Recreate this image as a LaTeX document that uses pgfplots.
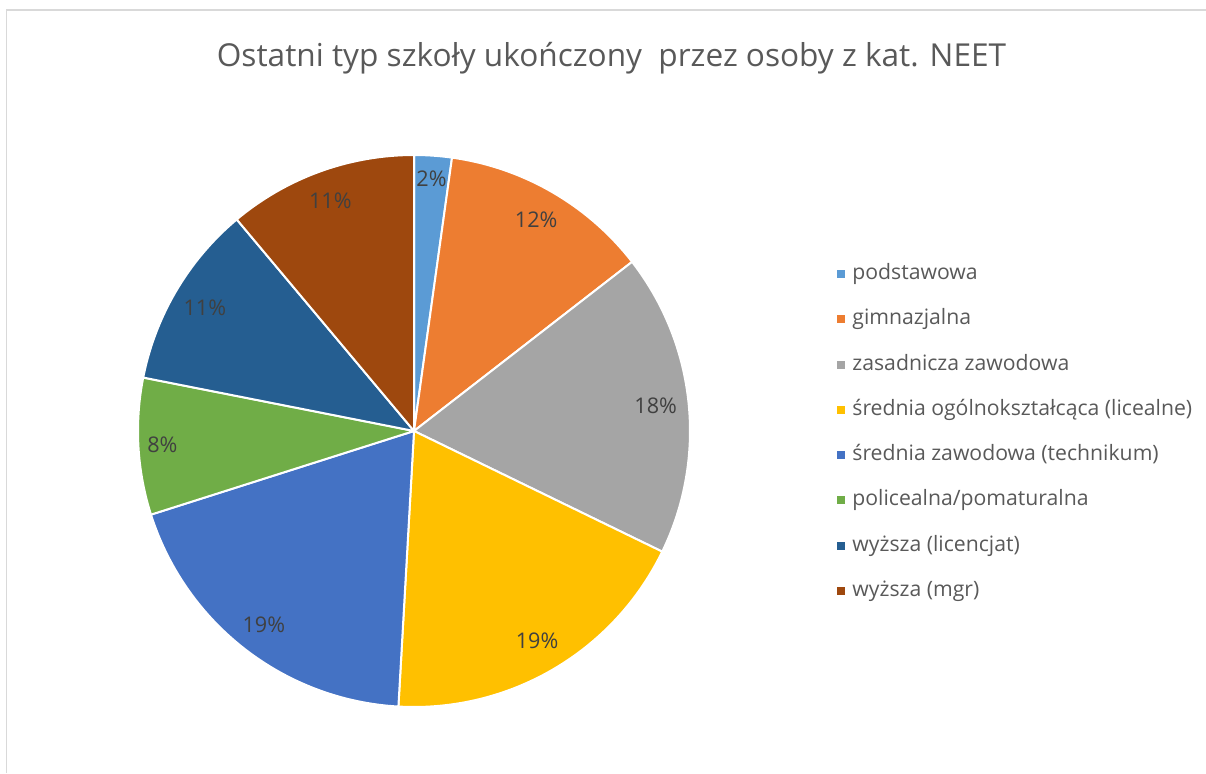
\documentclass[border=0pt]{standalone}
\usepackage{pgfplots}
\usepackage{pgfplotstable}
\pgfplotsset{compat=1.18}
\usepackage{fontspec}
\setmainfont{Open Sans}
\definecolor{cA}{HTML}{5B9BD5}
\definecolor{cB}{HTML}{ED7D31}
\definecolor{cC}{HTML}{A5A5A5}
\definecolor{cD}{HTML}{FFC000}
\definecolor{cE}{HTML}{4472C4}
\definecolor{cF}{HTML}{70AD47}
\definecolor{cG}{HTML}{255E91}
\definecolor{cH}{HTML}{9E480E}
\definecolor{titlegray}{HTML}{595959}
\definecolor{labelgray}{HTML}{404040}
\definecolor{framegray}{HTML}{D9D9D9}

% share (%) and radius (px) at which the label is set
\pgfplotstableread[col sep=comma]{
value,lr
2.2,253
12.3,244
17.7,243
18.7,243
19.2,245
8.0,252
10.8,243
11.1,245
}\piedata

\xdef\cum{0}
\foreach \i in {0,...,7}{%
  \pgfplotstablegetelem{\i}{value}\of\piedata
  \let\v\pgfplotsretval
  \pgfplotstablegetelem{\i}{lr}\of\piedata
  \let\lr\pgfplotsretval
  \pgfmathsetmacro\s{90-3.6*\cum}%
  \pgfmathsetmacro\newcum{\cum+\v}%
  \pgfmathsetmacro\e{90-3.6*\newcum}%
  \pgfmathsetmacro\m{(\s+\e)/2}%
  \pgfmathtruncatemacro\r{round(\v)}%
  \expandafter\xdef\csname pieS\i\endcsname{\s}%
  \expandafter\xdef\csname pieE\i\endcsname{\e}%
  \expandafter\xdef\csname pieM\i\endcsname{\m}%
  \expandafter\xdef\csname pieR\i\endcsname{\lr}%
  \expandafter\xdef\csname pieL\i\endcsname{\r}%
  \xdef\cum{\newcum}%
}

\newcommand\slice[2]{%
  \addplot[fill=#2, draw=white, line width=1pt, line join=round,
    domain=\csname pieE#1\endcsname:\csname pieS#1\endcsname, samples=90]
    ({276*cos(x)},{276*sin(x)}) -- (axis cs:0,0) -- cycle;
}

\begin{document}
\begin{tikzpicture}
\begin{axis}[
  scale only axis,
  width=603pt, height=386.5pt,
  xmin=-414, xmax=792, ymin=-342, ymax=431,
  axis lines=none, ticks=none, clip=false,
  legend style={at={(axis cs:423,-1.5)}, anchor=west, draw=none, fill=none,
    inner xsep=0pt, inner ysep=0pt,
    font=\fontsize{10.6pt}{12pt}\selectfont, text=titlegray,
    row sep=12.15pt, column sep=0pt,
    nodes={inner xsep=3.5pt, inner ysep=0pt, text height=8pt, text depth=2.5pt}},
  legend cell align=left,
  legend image code/.code={\fill[#1, draw=none] (0pt,-2pt) rectangle (4pt,2pt);},
]
\draw[framegray, line width=0.65pt] (axis cs:-407.5,-342) -- (axis cs:-407.5,421) -- (axis cs:792,421);

\slice{0}{cA}\addlegendentry{podstawowa}
\slice{1}{cB}\addlegendentry{gimnazjalna}
\slice{2}{cC}\addlegendentry{zasadnicza zawodowa}
\slice{3}{cD}\addlegendentry{średnia ogólnokształcąca (licealne)}
\slice{4}{cE}\addlegendentry{średnia zawodowa (technikum)}
\slice{5}{cF}\addlegendentry{policealna/pomaturalna}
\slice{6}{cG}\addlegendentry{wyższa (licencjat)}
\slice{7}{cH}\addlegendentry{wyższa (mgr)}

\pgfplotsinvokeforeach{0,...,7}{
  \node[text=labelgray, font=\fontsize{10.8pt}{13pt}\selectfont, inner sep=0pt]
    at (axis cs:{\csname pieR#1\endcsname*cos(\csname pieM#1\endcsname)},{\csname pieR#1\endcsname*sin(\csname pieM#1\endcsname)})
    {\csname pieL#1\endcsname\%};
}

\node[anchor=base, text=titlegray, font=\fontsize{15.8pt}{19pt}\selectfont, inner sep=0pt]
  at (axis cs:197.5,364) {Ostatni typ szkoły ukończony\ \ przez osoby z kat. NEET};
\end{axis}
\pgfresetboundingbox
\path (current axis.south west) rectangle (current axis.north east);
\end{tikzpicture}
\end{document}
